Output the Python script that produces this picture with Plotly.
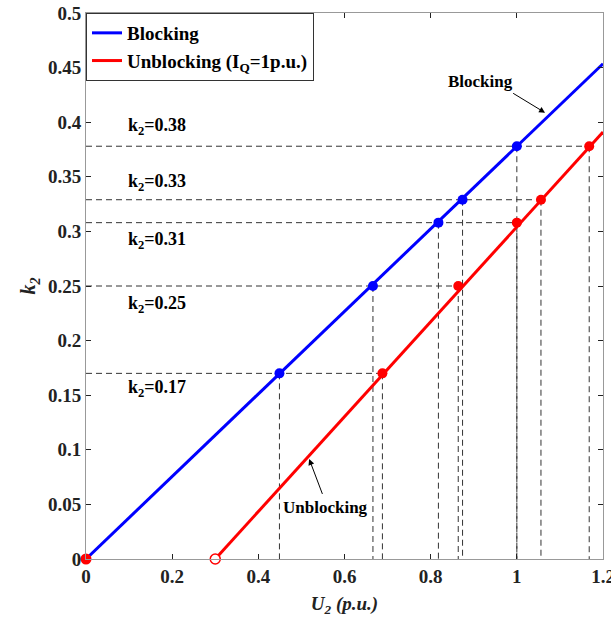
import plotly.graph_objects as go

# Lines
blocking_u = [0.0, 1.2]
blocking_k = [0.0, 0.4535]
unblocking_u = [0.3, 1.2]
unblocking_k = [0.0, 0.391]

# Marked points (same k2 levels for both curves)
k_levels = [0.17, 0.25, 0.308, 0.329, 0.378]
blocking_pts_u = [0.449, 0.666, 0.818, 0.874, 1.0]
unblocking_pts_u = [0.688, 0.864, 1.0, 1.056, 1.168]
k_labels = ["0.17", "0.25", "0.31", "0.33", "0.38"]
label_k = [0.156, 0.233, 0.292, 0.345, 0.396]

x_ticks = [0, 0.2, 0.4, 0.6, 0.8, 1.0, 1.2]
x_ticktext = ["0", "0.2", "0.4", "0.6", "0.8", "1", "1.2"]
y_ticks = [0, 0.05, 0.1, 0.15, 0.2, 0.25, 0.3, 0.35, 0.4, 0.45, 0.5]
y_ticktext = ["0", "0.05", "0.1", "0.15", "0.2", "0.25", "0.3", "0.35", "0.4", "0.45", "0.5"]

FONT = "Liberation Serif"
BLUE = "#0000ff"
RED = "#ff0000"
DASH_C = "#333333"

fig = go.Figure()

# dashed guide lines
for k, ub, ur in zip(k_levels, blocking_pts_u, unblocking_pts_u):
    fig.add_trace(go.Scatter(x=[0, ur], y=[k, k], mode="lines",
                             line=dict(color=DASH_C, width=1, dash="6px,4px"),
                             showlegend=False, hoverinfo="skip"))
    for u in (ub, ur):
        fig.add_trace(go.Scatter(x=[u, u], y=[k, 0], mode="lines",
                                 line=dict(color=DASH_C, width=1, dash="6px,4px"),
                                 showlegend=False, hoverinfo="skip"))

fig.add_trace(go.Scatter(x=blocking_u, y=blocking_k, mode="lines",
                         line=dict(color=BLUE, width=3), name="<b>Blocking</b>"))
fig.add_trace(go.Scatter(x=unblocking_u, y=unblocking_k, mode="lines",
                         line=dict(color=RED, width=3),
                         name="<b>Unblocking (I<sub>Q</sub>=1p.u.)</b>"))
fig.add_trace(go.Scatter(x=blocking_pts_u, y=k_levels, mode="markers",
                         marker=dict(color=BLUE, size=10), showlegend=False))
fig.add_trace(go.Scatter(x=unblocking_pts_u, y=k_levels, mode="markers",
                         marker=dict(color=RED, size=10), showlegend=False))
fig.add_trace(go.Scatter(x=[blocking_u[0]], y=[blocking_k[0]], mode="markers",
                         marker=dict(color=RED, size=11), showlegend=False,
                         cliponaxis=False))
fig.add_trace(go.Scatter(x=[unblocking_u[0]], y=[unblocking_k[0]], mode="markers",
                         marker=dict(color="white", size=10, line=dict(color=RED, width=1.5)),
                         showlegend=False, cliponaxis=False))

annotations = []
for lab, ly in zip(k_labels, label_k):
    annotations.append(dict(x=0.093, y=ly, xref="x", yref="y",
                            text="<b>k<sub>2</sub>=" + lab + "</b>", showarrow=False,
                            xanchor="left", yanchor="middle",
                            font=dict(family=FONT, size=18, color="black")))

annotations.append(dict(x=1.0655, y=0.4087, ax=0.988, ay=0.4273, xref="x", yref="y",
                        axref="x", ayref="y", text="", showarrow=True,
                        arrowhead=2, arrowsize=1.2, arrowwidth=1, arrowcolor="black"))
annotations.append(dict(x=0.915, y=0.437, xref="x", yref="y", text="<b>Blocking</b>",
                        showarrow=False, font=dict(family=FONT, size=17, color="black")))
annotations.append(dict(x=0.518, y=0.0916, ax=0.550, ay=0.0582, xref="x", yref="y",
                        axref="x", ayref="y", text="", showarrow=True,
                        arrowhead=2, arrowsize=1.2, arrowwidth=1, arrowcolor="black"))
annotations.append(dict(x=0.557, y=0.047, xref="x", yref="y", text="<b>Unblocking</b>",
                        showarrow=False, font=dict(family=FONT, size=17, color="black")))

fig.update_layout(
    width=611, height=623,
    margin=dict(l=86, r=8, t=13, b=64, autoexpand=False),
    paper_bgcolor="white", plot_bgcolor="white",
    font=dict(family=FONT, size=17, color="#222"),
    annotations=annotations,
    legend=dict(x=0, y=1, xanchor="left", yanchor="top",
                bgcolor="white", bordercolor="#333", borderwidth=1,
                font=dict(family=FONT, size=19, color="black"),
                tracegroupgap=0, itemwidth=30),
    xaxis=dict(range=[0, 1.2], tickvals=x_ticks, ticktext=x_ticktext,
               ticks="inside", ticklen=5, tickcolor="#222",
               showline=True, linecolor="#999", mirror="ticks", showgrid=False,
               zeroline=False, automargin=False, ticklabeloverflow="allow",
               tickfont=dict(family=FONT, size=19, color="#222", weight="bold"),
               title=dict(text="<i>U<sub>2</sub> (p.u.)</i>", standoff=10,
                          font=dict(family=FONT, size=19, color="#222", weight="bold"))),
    yaxis=dict(range=[0, 0.5], tickvals=y_ticks, ticktext=y_ticktext,
               ticks="inside", ticklen=5, tickcolor="#222",
               showline=True, linecolor="#999", mirror="ticks", showgrid=False,
               zeroline=False, automargin=False, ticklabeloverflow="allow",
               tickfont=dict(family=FONT, size=19, color="#222", weight="bold"),
               title=dict(text="<i>k<sub>2</sub></i>", standoff=6,
                          font=dict(family=FONT, size=20, color="#222", weight="bold"))),
)

fig.write_html("out.html", config={"displayModeBar": False},
               post_script="document.body.style.margin='0';document.body.style.overflow='hidden';")
